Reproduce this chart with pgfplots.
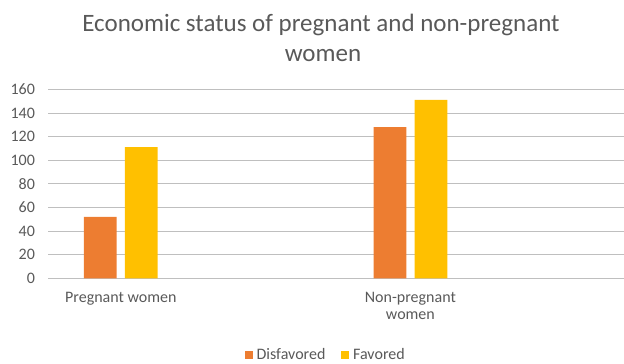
\documentclass[border=0pt]{standalone}
\usepackage{fontspec}
\setmainfont{Carlito}
\usepackage{pgfplots}
\pgfplotsset{compat=1.18}
\definecolor{txt}{HTML}{595959}
\definecolor{grid}{HTML}{D9D9D9}
\definecolor{cOrange}{HTML}{ED7D31}
\definecolor{cGold}{HTML}{FFC000}
\begin{document}
\begin{tikzpicture}[x=1pt,y=1pt]
\useasboundingbox (0,0) rectangle (624,364);
\begin{axis}[
  at={(48.4pt,85.7pt)}, anchor=south west,
  scale only axis, width=575.6pt, height=189pt,
  xmin=-0.5, xmax=3.475, ymin=0, ymax=160,
  ytick={0,20,...,160},
  xtick={0,2},
  xticklabels={Pregnant women,{Non-pregnant\\women}},
  xticklabel style={align=center, font=\fontsize{16}{17.3}\selectfont, text=txt, yshift=-6pt},
  yticklabel style={font=\fontsize{16}{17}\selectfont, text=txt, xshift=-10pt},
  /pgf/number format/assume math mode=true,
  ymajorgrids, xmajorgrids=false,
  grid style={grid, line width=0.8pt},
  axis line style={draw=none},
  xtick style={draw=none}, ytick style={draw=none},
  ybar, bar width=32.7pt,
  legend style={at={(0.482,-0.405)}, anchor=center, draw=none, legend columns=2,
    font=\fontsize{16}{17}\selectfont, text=txt,
    /tikz/every even column/.append style={column sep=14pt}},
  legend image code/.code={\fill[#1] (0pt,-3.8pt) rectangle (7.7pt,3.8pt);},
  legend cell align=left,
]
\addplot[draw=none, fill=cOrange, bar shift=-20.5pt] coordinates {(0,52) (2,128)};
\addplot[draw=none, fill=cGold, bar shift=20.5pt] coordinates {(0,111) (2,151)};
\legend{\hspace{2pt}Disfavored, \hspace{2pt}Favored}
\end{axis}
\node[anchor=base, text=txt, font=\fontsize{25}{29}\selectfont] at (321,332.3) {Economic status of pregnant and non-pregnant};
\node[anchor=base, text=txt, font=\fontsize{25}{29}\selectfont] at (323,302.3) {women};
\end{tikzpicture}
\end{document}
